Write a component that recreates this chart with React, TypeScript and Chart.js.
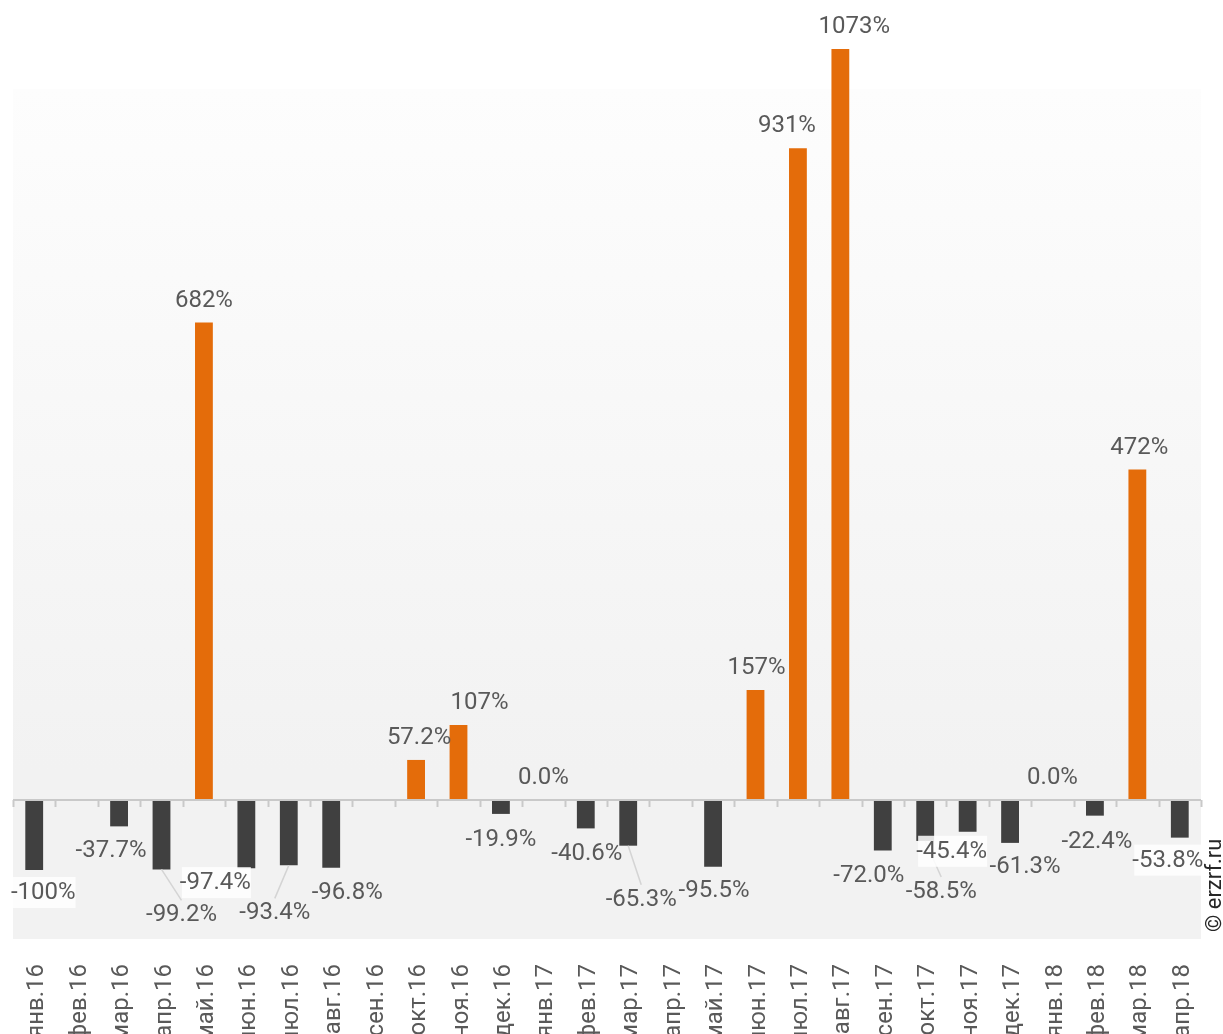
import React, { useEffect, useRef } from "react";
import { Chart, registerables } from "chart.js";

Chart.register(...registerables);

const categories = [
  "янв.16", "фев.16", "мар.16", "апр.16", "май.16", "июн.16", "июл.16", "авг.16",
  "сен.16", "окт.16", "ноя.16", "дек.16", "янв.17", "фев.17", "мар.17", "апр.17",
  "май.17", "июн.17", "июл.17", "авг.17", "сен.17", "окт.17", "ноя.17", "дек.17",
  "янв.18", "фев.18", "мар.18", "апр.18",
];

const values: (number | null)[] = [
  -100, null, -37.7, -99.2, 682, -97.4, -93.4, -96.8,
  null, 57.2, 107, -19.9, 0, -40.6, -65.3, null,
  -95.5, 157, 931, 1073, -72.0, -58.5, -45.4, -61.3,
  0, -22.4, 472, -53.8,
];

// label placement tweaks (layout only)
const labelDx = [9, 0, -8, 20, 0, -31, -14, 16, 0, 3, 21, 0, 0, 1, 13, 0, 1, 1, -11, 14, -14, 16, -16, 15, 0, 2, 2, -12];
const labelDy = [-2, 0, 0, 21, 0, -10, 23, 0, 0, 0, 0, 1, 0, 1, 29, 0, -1, 0, 0, 0, 1, 26, -5, -1, 0, 1, 0, -2];
const labelBoxed = [1, 0, 0, 0, 0, 1, 0, 0, 0, 0, 0, 0, 0, 0, 0, 0, 0, 0, 0, 0, 0, 0, 1, 0, 0, 0, 0, 1];
const labelLeader = [0, 0, 0, 1, 0, 0, 1, 0, 0, 0, 0, 0, 0, 0, 1, 0, 0, 0, 0, 0, 0, 1, 0, 0, 0, 0, 0, 0];

const POS_COLOR = "#E46C0A";
const NEG_COLOR = "#404040";
const TEXT_COLOR = "#595959";
const FONT = "Roboto";
const BG_TOP = 89;

function fmt(v: number): string {
  return (Math.abs(v) >= 100 ? v.toFixed(0) : v.toFixed(1)) + "%";
}

const bgPlugin = {
  id: "bgPlugin",
  beforeDatasetsDraw(chart: any) {
    const { ctx, chartArea } = chart;
    const g = ctx.createLinearGradient(0, BG_TOP, 0, chartArea.bottom);
    g.addColorStop(0, "#fdfdfd");
    g.addColorStop(0.8, "#f2f2f2");
    g.addColorStop(1, "#f2f2f2");
    ctx.save();
    ctx.fillStyle = g;
    ctx.fillRect(chartArea.left, BG_TOP, chartArea.right - chartArea.left, chartArea.bottom - BG_TOP);
    ctx.restore();
  },
};

const overlayPlugin = {
  id: "overlayPlugin",
  afterDatasetsDraw(chart: any) {
    const { ctx, chartArea } = chart;
    const xs = chart.scales.x;
    const ys = chart.scales.y;
    const y0 = ys.getPixelForValue(0);
    const step = xs.getPixelForValue(1) - xs.getPixelForValue(0);
    ctx.save();
    ctx.strokeStyle = "#c9c9c9";
    ctx.lineWidth = 2;
    ctx.beginPath();
    ctx.moveTo(chartArea.left, y0);
    ctx.lineTo(chartArea.right, y0);
    for (let i = 0; i <= categories.length; i++) {
      const bx = Math.round(xs.getPixelForValue(i) - step / 2) + 0.5;
      ctx.moveTo(bx, y0);
      ctx.lineTo(bx, y0 + 7);
    }
    ctx.stroke();

    const meta = chart.getDatasetMeta(0);
    ctx.font = `24px ${FONT}`;
    ctx.textAlign = "center";
    ctx.textBaseline = "middle";
    meta.data.forEach((el: any, i: number) => {
      const v = values[i];
      if (v === null || v === undefined) return;
      const bx = el.x;
      const by = el.y;
      const lx = bx + labelDx[i];
      const ly = (v >= 0 ? by - 22 : by + 25) + labelDy[i];
      const txt = fmt(v);
      if (labelLeader[i]) {
        ctx.strokeStyle = "#d4d4d4";
        ctx.lineWidth = 1.5;
        ctx.beginPath();
        ctx.moveTo(bx, by);
        ctx.lineTo(lx, ly - 15);
        ctx.stroke();
      }
      if (labelBoxed[i]) {
        const w = ctx.measureText(txt).width;
        ctx.fillStyle = "rgba(255,255,255,0.85)";
        ctx.fillRect(lx - w / 2 + 2, ly - 16, w - 2, 31);
      }
      ctx.fillStyle = TEXT_COLOR;
      ctx.fillText(txt, lx, ly);
    });
    ctx.restore();
  },
  afterDraw(chart: any) {
    const { ctx } = chart;
    ctx.save();
    ctx.translate(1221, 932);
    ctx.rotate(-Math.PI / 2);
    ctx.font = `22px ${FONT}`;
    ctx.fillStyle = "#262626";
    ctx.textAlign = "left";
    ctx.textBaseline = "alphabetic";
    ctx.fillText("© erzrf.ru", 0, 0);
    ctx.restore();
  },
};

export default function App() {
  const ref = useRef<HTMLCanvasElement | null>(null);
  useEffect(() => {
    if (!ref.current) return;
    const chart = new Chart(ref.current, {
      type: "bar",
      data: {
        labels: categories,
        datasets: [
          {
            data: values as any,
            backgroundColor: values.map((v) => (v !== null && v > 0 ? POS_COLOR : NEG_COLOR)),
            borderWidth: 0,
            barPercentage: 0.42,
            categoryPercentage: 1,
          },
        ],
      },
      options: {
        animation: false,
        responsive: false,
        devicePixelRatio: 1,
        layout: { padding: { left: 13, right: 22, top: 30, bottom: 0 } },
        plugins: {
          legend: { display: false },
          tooltip: { enabled: false },
        },
        scales: {
          x: {
            grid: { display: false },
            border: { display: false },
            ticks: {
              autoSkip: false,
              maxRotation: 90,
              minRotation: 90,
              padding: 17,
              labelOffset: 3,
              color: TEXT_COLOR,
              font: { family: FONT, size: 24 },
            },
            afterFit: (scale: any) => {
              scale.height = 95;
              scale.paddingLeft = 0;
              scale.paddingRight = 0;
            },
          },
          y: {
            display: false,
            min: -198.6,
            max: 1100,
          },
        },
      },
      plugins: [bgPlugin, overlayPlugin],
    });
    return () => chart.destroy();
  }, []);
  return (
    <div style={{ position: "absolute", left: 0, top: 0, width: 1223, height: 1034, background: "#ffffff" }}>
      <canvas ref={ref} width={1223} height={1034} style={{ display: "block" }} />
    </div>
  );
}
